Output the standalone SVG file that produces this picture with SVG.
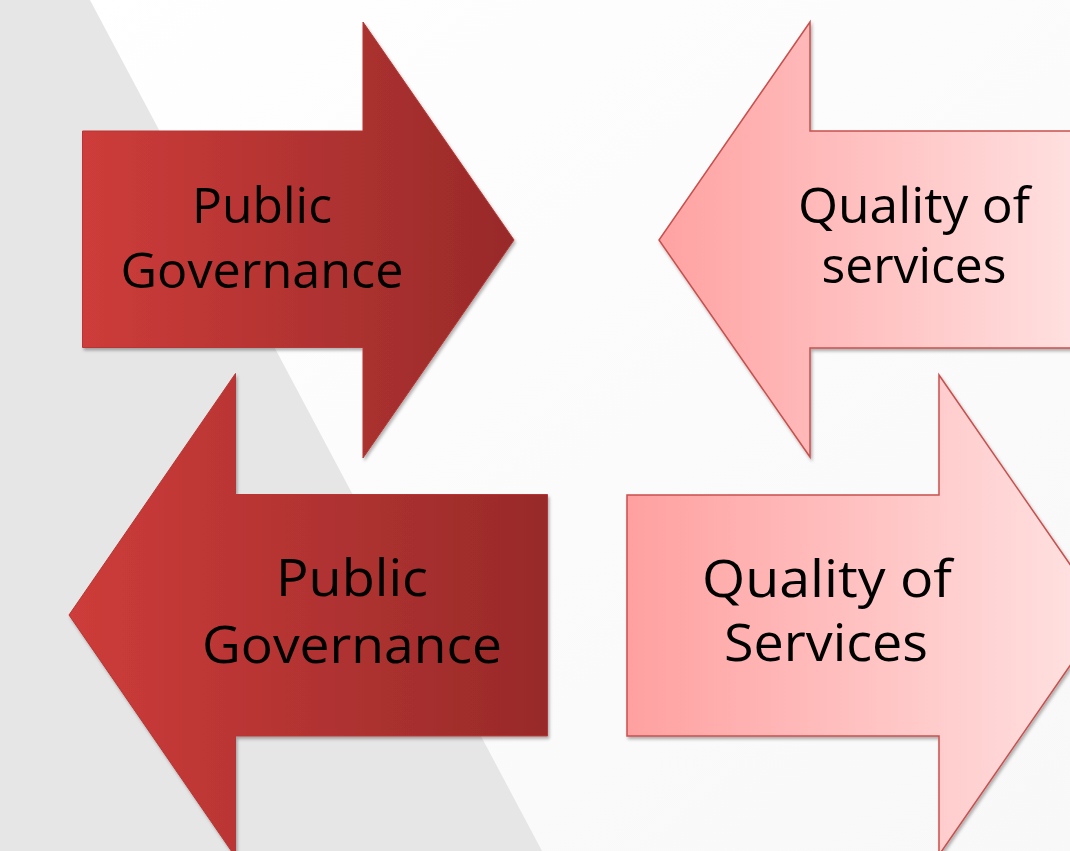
<svg xmlns="http://www.w3.org/2000/svg" width="1070" height="851" viewBox="0 0 1070 851">
  <defs>
    <linearGradient id="bgWhite" x1="0" y1="0" x2="1" y2="1">
      <stop offset="0" stop-color="#ffffff"/>
      <stop offset="1" stop-color="#f8f8f8"/>
    </linearGradient>
    <linearGradient id="darkL" gradientUnits="userSpaceOnUse" x1="82" y1="0" x2="515" y2="0">
      <stop offset="0" stop-color="#cd3c3a"/>
      <stop offset="1" stop-color="#982a29"/>
    </linearGradient>
    <linearGradient id="darkB" gradientUnits="userSpaceOnUse" x1="69" y1="0" x2="548" y2="0">
      <stop offset="0" stop-color="#cd3c3a"/>
      <stop offset="1" stop-color="#982a29"/>
    </linearGradient>
    <linearGradient id="pinkT" gradientUnits="userSpaceOnUse" x1="659" y1="0" x2="1075" y2="0">
      <stop offset="0" stop-color="#ffa2a2"/>
      <stop offset="1" stop-color="#ffe0e0"/>
    </linearGradient>
    <linearGradient id="pinkB" gradientUnits="userSpaceOnUse" x1="627" y1="0" x2="1105" y2="0">
      <stop offset="0" stop-color="#ffa0a0"/>
      <stop offset="1" stop-color="#ffe4e4"/>
    </linearGradient>
    <filter id="shadow" x="-10%" y="-10%" width="120%" height="120%">
      <feDropShadow dx="1.5" dy="2.5" stdDeviation="1.5" flood-color="#000" flood-opacity="0.3"/>
    </filter>
  </defs>
  <style>
    .dark { stroke: #b83634; stroke-width: 1; filter: url(#shadow); }
    .pink { stroke: #c9504e; stroke-width: 1.5; stroke-linejoin: miter; filter: url(#shadow); }
    .lbl { font-family: "Open Sans", "Liberation Sans", sans-serif; fill: #000; text-anchor: middle; }
  </style>

  <g id="background">
    <rect x="0" y="0" width="1070" height="851" fill="url(#bgWhite)"/>
    <polygon points="0,0 90,0 542,851 0,851" fill="#e6e6e6"/>
  </g>

  <g id="connectors"></g>

  <g id="arrow-public-governance-top">
    <polygon class="dark" fill="url(#darkL)" points="82.5,131 363,131 363,22 514,240 363,458 363,347.5 82.5,347.5"/>
    <text class="lbl" x="262" y="223" font-size="50" textLength="140" lengthAdjust="spacingAndGlyphs">Public</text>
    <text class="lbl" x="262" y="288" font-size="50" textLength="283" lengthAdjust="spacingAndGlyphs">Governance</text>
  </g>

  <g id="arrow-quality-services-top">
    <polygon class="pink" fill="url(#pinkT)" points="1076,131 810,131 810,22 659,240 810,457 810,348 1076,348"/>
    <text class="lbl" x="914" y="223" font-size="49" textLength="232" lengthAdjust="spacingAndGlyphs">Quality of</text>
    <text class="lbl" x="914" y="283" font-size="49" textLength="185" lengthAdjust="spacingAndGlyphs">services</text>
  </g>

  <g id="arrow-public-governance-bottom">
    <polygon class="dark" fill="url(#darkB)" points="547.5,494.5 235.5,494.5 235.5,373.5 69,615 235.5,857 235.5,736 547.5,736"/>
    <text class="lbl" x="352" y="596" font-size="52" textLength="152" lengthAdjust="spacingAndGlyphs">Public</text>
    <text class="lbl" x="352" y="663" font-size="52" textLength="300" lengthAdjust="spacingAndGlyphs">Governance</text>
  </g>

  <g id="arrow-quality-services-bottom">
    <polygon class="pink" fill="url(#pinkB)" points="627,495 939,495 939,375 1105,615 939,855 939,736 627,736"/>
    <text class="lbl" x="827" y="597" font-size="51" textLength="250" lengthAdjust="spacingAndGlyphs">Quality of</text>
    <text class="lbl" x="826" y="661" font-size="51" textLength="204" lengthAdjust="spacingAndGlyphs">Services</text>
  </g>
</svg>
